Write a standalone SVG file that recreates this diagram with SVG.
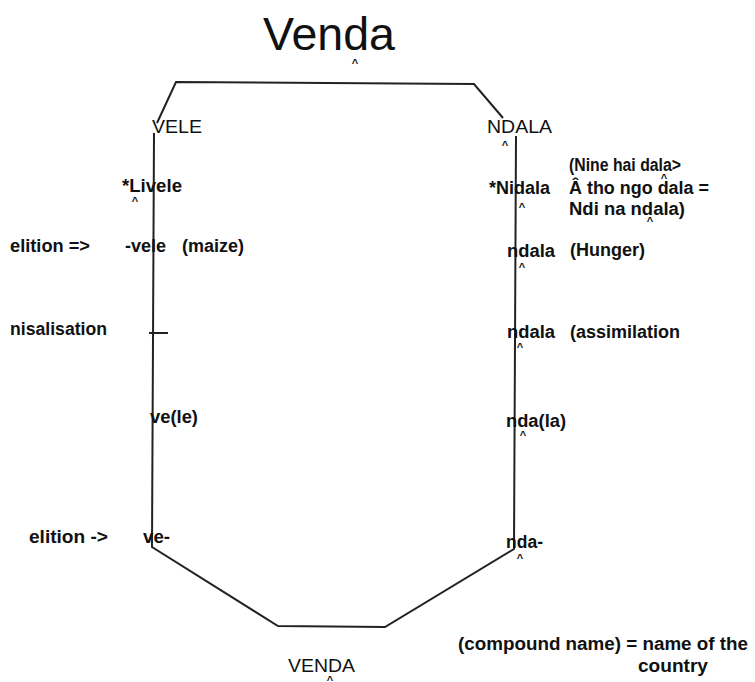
<svg xmlns="http://www.w3.org/2000/svg" width="755" height="682" viewBox="0 0 755 682">
<style>
.t{font-family:"Liberation Sans",Arial,sans-serif;fill:#111;}
.b{font-weight:bold;font-size:18px;}
.r{font-size:19px;}
.c{font-family:"Liberation Sans",Arial,sans-serif;font-size:11px;font-weight:bold;fill:#111;text-anchor:middle;}
.ln{fill:none;stroke:#222;stroke-width:2;stroke-linejoin:miter;}
</style>
<rect width="755" height="682" fill="#fff"/>
<g id="connectors">
<polyline class="ln" points="157,123 176,82 474,84 503,118"/>
<polyline class="ln" points="154,133 152,547 278,626 385,627 514,549 516,136"/>
<line class="ln" x1="149" y1="333" x2="168" y2="333"/>
</g>
<g id="title"><text class="t" x="263" y="50" font-size="47" textLength="132" lengthAdjust="spacingAndGlyphs">Venda</text><text class="c" x="355" y="67">^</text></g>
<g id="vele"><text class="t r" x="152" y="133" textLength="50" lengthAdjust="spacingAndGlyphs">VELE</text></g>
<g id="ndala"><text class="t r" x="487" y="133" textLength="65" lengthAdjust="spacingAndGlyphs">NDALA</text><text class="c" x="505" y="149">^</text></g>
<g id="livele"><text class="t b" x="122" y="192" textLength="60" lengthAdjust="spacingAndGlyphs">*Livele</text><text class="c" x="135" y="205">^</text></g>
<g id="nidala"><text class="t b" x="489" y="194" textLength="61" lengthAdjust="spacingAndGlyphs">*Nidala</text><text class="c" x="522" y="211">^</text></g>
<g id="note">
<text class="t b" x="569" y="171" textLength="112" lengthAdjust="spacingAndGlyphs">(Nine hai dala&gt;</text>
<text class="t b" x="569" y="194" textLength="140" lengthAdjust="spacingAndGlyphs">Â tho ngo dala =</text>
<text class="c" x="664" y="182">^</text>
<text class="t b" x="569" y="215" textLength="116" lengthAdjust="spacingAndGlyphs">Ndi na ndala)</text>
<text class="c" x="650" y="225">^</text>
</g>
<g id="elition1"><text class="t b" x="10" y="252" textLength="80" lengthAdjust="spacingAndGlyphs">elition =&gt;</text></g>
<g id="vele2"><text class="t b" x="125" y="252">-vele</text><text class="t b" x="182" y="252">(maize)</text></g>
<g id="ndala2"><text class="t b" x="507" y="257" textLength="48" lengthAdjust="spacingAndGlyphs">ndala</text><text class="t b" x="570" y="256">(Hunger)</text><text class="c" x="522" y="271">^</text></g>
<g id="nasal"><text class="t b" x="10" y="335" textLength="97" lengthAdjust="spacingAndGlyphs">nisalisation</text></g>
<g id="ndala3"><text class="t b" x="507" y="338" textLength="48" lengthAdjust="spacingAndGlyphs">ndala</text><text class="t b" x="570" y="338" textLength="110" lengthAdjust="spacingAndGlyphs">(assimilation</text><text class="c" x="520" y="351">^</text></g>
<g id="vele3"><text class="t b" x="150" y="423" textLength="48" lengthAdjust="spacingAndGlyphs">ve(le)</text></g>
<g id="ndala4"><text class="t b" x="506" y="427" textLength="60" lengthAdjust="spacingAndGlyphs">nda(la)</text><text class="c" x="523" y="439">^</text></g>
<g id="elition2"><text class="t b" x="29" y="543" textLength="79" lengthAdjust="spacingAndGlyphs">elition -&gt;</text></g>
<g id="ve"><text class="t b" x="143" y="543" textLength="27" lengthAdjust="spacingAndGlyphs">ve-</text></g>
<g id="nda"><text class="t b" x="506" y="548" textLength="37" lengthAdjust="spacingAndGlyphs">nda-</text><text class="c" x="520" y="562">^</text></g>
<g id="venda"><text class="t r" x="288" y="672" textLength="67" lengthAdjust="spacingAndGlyphs">VENDA</text><text class="c" x="330" y="684">^</text></g>
<g id="compound"><text class="t b" x="458" y="650" textLength="290" lengthAdjust="spacingAndGlyphs">(compound name) = name of the</text><text class="t b" x="638" y="672" textLength="70" lengthAdjust="spacingAndGlyphs">country</text></g>
</svg>
